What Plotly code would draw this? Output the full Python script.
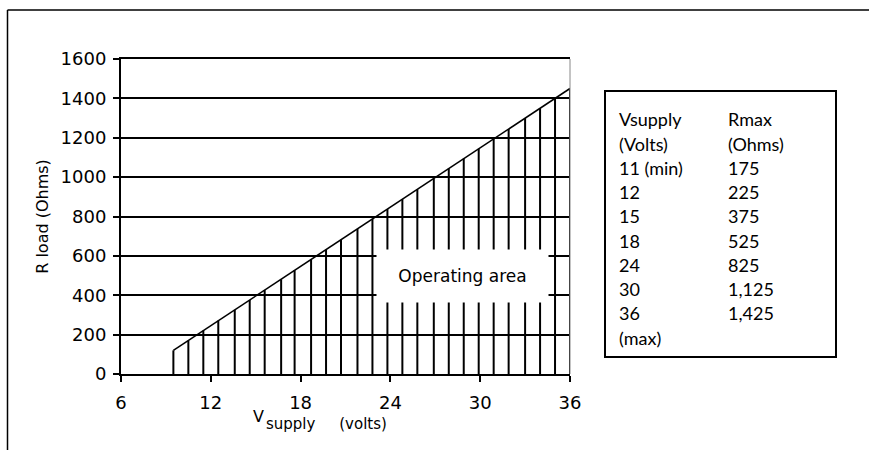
import plotly.graph_objects as go

# ---- data ----
boundary_v = [9.5, 36.0]          # V supply (volts) at ends of the R max boundary
boundary_r = [120, 1450]          # R load (ohms) at those ends

hatch_v = [9.5, 10.5, 11.5, 12.5, 13.6, 14.6, 15.6, 16.7, 17.6, 18.7, 19.7, 20.7,
           21.8, 22.8, 23.8, 24.8, 25.8, 26.9, 27.9, 28.9, 29.9, 30.9, 31.9,
           33.0, 34.0, 35.0, 36.0]
hatch_top = [120, 170, 220, 271, 326, 376, 426, 481, 527, 582, 632, 682,
             737, 788, 838, 888, 938, 993, 1044, 1094, 1144, 1194, 1244,
             1300, 1350, 1400, 1450]

table_vsupply = [11, 12, 15, 18, 24, 30, 36]
table_rmax = [175, 225, 375, 525, 825, 1125, 1425]

x_ticks = [6, 12, 18, 24, 30, 36]
y_ticks = [0, 200, 400, 600, 800, 1000, 1200, 1400, 1600]

# ---- figure ----
W, H = 869, 450
L, R, T, B = 121, 299, 59, 76
PW, PH = W - L - R, H - T - B


def px_x(px):
    return (px - L) / PW


def px_y(py):
    return (H - B - py) / PH


hx, hy = [], []
for v, top in zip(hatch_v, hatch_top):
    hx += [v, v, None]
    hy += [0, top, None]

fig = go.Figure()
fig.add_trace(go.Scatter(x=hx, y=hy, mode="lines",
                         line=dict(color="black", width=2), hoverinfo="skip"))
fig.add_trace(go.Scatter(x=boundary_v, y=boundary_r, mode="lines",
                         line=dict(color="black", width=1.6), hoverinfo="skip"))

tick_font = dict(family="DejaVu Sans", size=18, color="black")

fig.update_layout(
    width=W, height=H,
    margin=dict(l=L, r=R, t=T, b=B),
    paper_bgcolor="white", plot_bgcolor="white",
    showlegend=False,
    xaxis=dict(range=[6, 36], tickvals=x_ticks, showgrid=False, zeroline=False,
               showline=True, mirror=True, linecolor="black", linewidth=2,
               ticks="outside", ticklen=6, tickwidth=2, tickcolor="black",
               tickfont=tick_font, ticklabelstandoff=5, automargin=False),
    yaxis=dict(range=[0, 1600], tickvals=y_ticks, showgrid=True,
               gridcolor="black", gridwidth=2, zeroline=False,
               showline=True, linecolor="black", linewidth=2,
               ticks="outside", ticklen=6, tickwidth=2, tickcolor="black",
               tickfont=tick_font, ticklabelstandoff=3, automargin=False,
               title=dict(text="R load (Ohms)", standoff=8,
                          font=dict(family="DejaVu Sans", size=16, color="black"))),
)

shapes = [
    # right edge of plot area (thin gray)
    dict(type="line", xref="paper", yref="paper", x0=1, x1=1, y0=0, y1=1,
         line=dict(color="#888888", width=1)),
    # table box
    dict(type="rect", xref="paper", yref="paper",
         x0=px_x(605), x1=px_x(836), y0=px_y(357), y1=px_y(91),
         line=dict(color="black", width=2), fillcolor="rgba(0,0,0,0)"),
    # outer frame (top and left)
    dict(type="line", xref="paper", yref="paper",
         x0=px_x(7.5), x1=px_x(869), y0=px_y(10), y1=px_y(10),
         line=dict(color="black", width=1.5)),
    dict(type="line", xref="paper", yref="paper",
         x0=px_x(7.5), x1=px_x(7.5), y0=px_y(10), y1=px_y(450),
         line=dict(color="black", width=1.5)),
]
fig.update_layout(shapes=shapes)

annotations = [
    dict(text="Operating area", x=28.8, y=497, xref="x", yref="y",
         showarrow=False, xanchor="center", yanchor="middle",
         width=171, height=52, bgcolor="white", borderpad=0,
         font=dict(family="DejaVu Sans", size=17, color="black")),
    dict(text="V", x=px_x(258), y=px_y(416), xref="paper", yref="paper",
         showarrow=False, xanchor="center", yanchor="middle",
         font=dict(family="DejaVu Sans", size=16, color="black")),
    dict(text="supply     (volts)", x=px_x(264), y=px_y(424), xref="paper", yref="paper",
         showarrow=False, xanchor="left", yanchor="middle",
         font=dict(family="DejaVu Sans", size=15, color="black")),
]

col1 = ["Vsupply", "(Volts)"] + [str(v) for v in table_vsupply]
col1[2] = col1[2] + " (min)"
col1.append("(max)")
col2 = ["Rmax", "(Ohms)"] + [f"{r:,}" for r in table_rmax] + [""]
table_font = dict(family="Lato", size=18, color="black")
for i, (a, b) in enumerate(zip(col1, col2)):
    yy = px_y(119.3 + 24.27 * i)
    annotations.append(dict(text=a, x=px_x(617), y=yy, xref="paper", yref="paper",
                            showarrow=False, xanchor="left", yanchor="middle",
                            font=table_font))
    if b:
        annotations.append(dict(text=b, x=px_x(726), y=yy, xref="paper", yref="paper",
                                showarrow=False, xanchor="left", yanchor="middle",
                                font=table_font))

fig.update_layout(annotations=annotations)

fig.write_html("out.html", config={"displayModeBar": False},
               post_script="document.body.style.margin='0';")
